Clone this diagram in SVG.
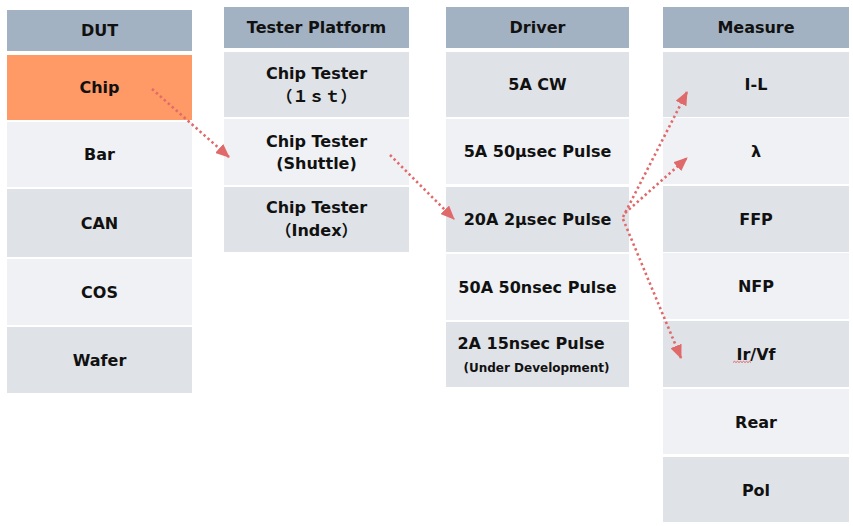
<svg xmlns="http://www.w3.org/2000/svg" width="853" height="526" viewBox="0 0 853 526">
<defs>
<style>
.hd{fill:#A3B2C2}
.dk{fill:#DFE2E7}
.lt{fill:#EFF1F4}
.or{fill:#FF9966}
text{font-family:"DejaVu Sans","Noto Sans CJK JP",sans-serif;font-weight:bold;font-size:16px;fill:#111;text-anchor:middle}
.sm{font-size:12px}
.cn{stroke:#E06A6A;stroke-width:2.6;stroke-dasharray:2.4 2.9;fill:none}
</style>
<marker id="ah" markerUnits="userSpaceOnUse" markerWidth="14" markerHeight="12" viewBox="0 0 14 12" refX="13" refY="6" orient="auto">
<path d="M0,0 L14,6 L0,12 Z" fill="#E06A6A"/>
</marker>
</defs>
<rect width="853" height="526" fill="#fff"/>

<g id="dut">
<g id="dut-h"><rect class="hd" x="7" y="10" width="185" height="41"/><text x="99.5" y="36">DUT</text></g>
<g id="dut-chip"><rect class="or" x="7" y="55" width="185" height="65"/><text x="99.5" y="93">Chip</text></g>
<g id="dut-bar"><rect class="lt" x="7" y="122" width="185" height="65"/><text x="99.5" y="160">Bar</text></g>
<g id="dut-can"><rect class="dk" x="7" y="189" width="185" height="68"/><text x="99.5" y="229">CAN</text></g>
<g id="dut-cos"><rect class="lt" x="7" y="259" width="185" height="66"/><text x="99.5" y="298">COS</text></g>
<g id="dut-wafer"><rect class="dk" x="7" y="327" width="185" height="66"/><text x="99.5" y="366">Wafer</text></g>
</g>

<g id="tester">
<g id="tp-h"><rect class="hd" x="224" y="7" width="185" height="41"/><text x="316.5" y="33">Tester Platform</text></g>
<g id="tp-1st"><rect class="dk" x="224" y="52" width="185" height="65"/><text x="316.5" y="79">Chip Tester</text><text x="316.5" y="102">（１ｓｔ）</text></g>
<g id="tp-shuttle"><rect class="lt" x="224" y="119" width="185" height="66"/><text x="316.5" y="147">Chip Tester</text><text x="316.5" y="169">(Shuttle)</text></g>
<g id="tp-index"><rect class="dk" x="224" y="187" width="185" height="65"/><text x="316.5" y="213">Chip Tester</text><text x="316.5" y="236">（Index）</text></g>
</g>

<g id="driver">
<g id="dr-h"><rect class="hd" x="446" y="7" width="183" height="41"/><text x="537.5" y="33">Driver</text></g>
<g id="dr-cw"><rect class="dk" x="446" y="52" width="183" height="65"/><text x="537.5" y="90">5A CW</text></g>
<g id="dr-50us"><rect class="lt" x="446" y="119" width="183" height="65"/><text x="537.5" y="157">5A 50µsec Pulse</text></g>
<g id="dr-2us"><rect class="dk" x="446" y="187" width="183" height="65"/><text x="537.5" y="225">20A 2µsec Pulse</text></g>
<g id="dr-50ns"><rect class="lt" x="446" y="254" width="183" height="66"/><text x="537.5" y="293">50A 50nsec Pulse</text></g>
<g id="dr-15ns"><rect class="dk" x="446" y="322" width="183" height="65"/><text x="531" y="349">2A 15nsec Pulse</text><text class="sm" x="536.5" y="372">(Under Development)</text></g>
</g>

<g id="measure">
<g id="ms-h"><rect class="hd" x="663" y="7" width="186" height="41"/><text x="756" y="33">Measure</text></g>
<g id="ms-il"><rect class="dk" x="663" y="52" width="186" height="65"/><text x="756" y="90">I-L</text></g>
<g id="ms-lambda"><rect class="lt" x="663" y="118" width="186" height="66"/><text x="756" y="157">λ</text></g>
<g id="ms-ffp"><rect class="dk" x="663" y="186" width="186" height="66"/><text x="756" y="225">FFP</text></g>
<g id="ms-nfp"><rect class="lt" x="663" y="253" width="186" height="66"/><text x="756" y="292">NFP</text></g>
<g id="ms-irvf"><rect class="dk" x="663" y="321" width="186" height="66"/><text x="756" y="360">Ir/Vf</text>
<path d="M733,362.5 l1.5,-1.2 l1.5,1.2 l1.5,-1.2 l1.5,1.2 l1.5,-1.2 l1.5,1.2 l1.5,-1.2 l1.5,1.2 l1.5,-1.2 l1.5,1.2 l1.5,-1.2 l1.5,1.2" fill="none" stroke="#E04040" stroke-width="0.8"/></g>
<g id="ms-rear"><rect class="lt" x="663" y="389" width="186" height="65"/><text x="756" y="428">Rear</text></g>
<g id="ms-pol"><rect class="dk" x="663" y="457" width="186" height="65"/><text x="756" y="496">Pol</text></g>
</g>

<g id="connectors">
<line class="cn" x1="152" y1="89" x2="229" y2="157" marker-end="url(#ah)"/>
<line class="cn" x1="390" y1="155" x2="454" y2="219" marker-end="url(#ah)"/>
<line class="cn" x1="623" y1="217" x2="687" y2="92" marker-end="url(#ah)"/>
<line class="cn" x1="625" y1="213" x2="687" y2="158" marker-end="url(#ah)"/>
<line class="cn" x1="623" y1="219" x2="681" y2="358" marker-end="url(#ah)"/>
</g>
</svg>
